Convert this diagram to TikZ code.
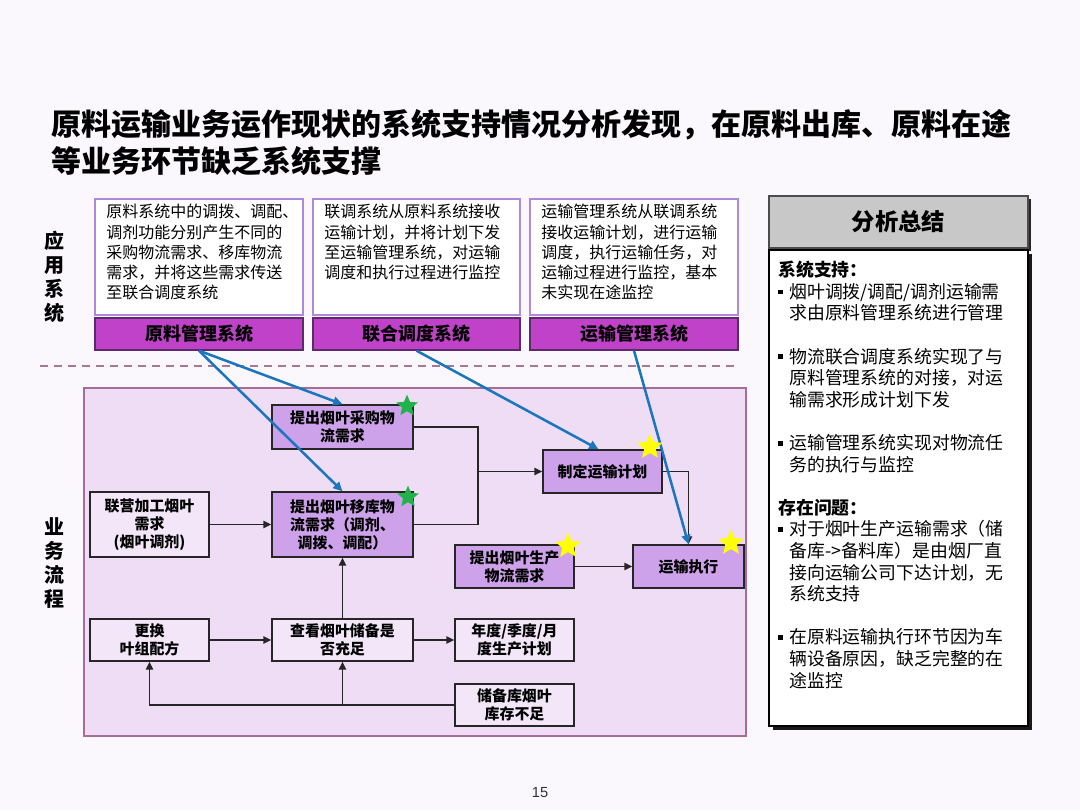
\documentclass[tikz,border=0pt]{standalone}
\usepackage{fontspec}
\setmainfont{Noto Sans CJK SC}
\newfontfamily\numfont{Liberation Sans}
\usetikzlibrary{shapes.geometric,arrows.meta}
\definecolor{bgc}{HTML}{FAF7FD}
\definecolor{areac}{HTML}{EFDDF6}
\definecolor{areab}{HTML}{A86C98}
\definecolor{dboxc}{HTML}{AE8ADE}
\definecolor{sysc}{HTML}{C042C8}
\definecolor{sysb}{HTML}{5A2A6A}
\definecolor{pc}{HTML}{CDA2EA}
\definecolor{lc}{HTML}{F3E6F9}
\definecolor{bluec}{HTML}{1B76BE}
\definecolor{greenc}{HTML}{22B24C}
\definecolor{yellowc}{HTML}{FFFF00}
\definecolor{dashc}{HTML}{A87898}
\definecolor{hdrc}{HTML}{C8C8C8}
\tikzset{
  dbox/.style={draw=dboxc, fill=white, line width=0.9pt, minimum width=156pt, minimum height=87pt, inner sep=0},
  dtext/.style={anchor=north west, inner sep=0, align=left, font=\fontsize{12pt}{15.2pt}\selectfont},
  sbox/.style={draw=sysb, fill=sysc, line width=1pt, minimum width=156pt, minimum height=24pt, inner sep=0, font=\bfseries\fontsize{13.5pt}{16pt}\selectfont},
  pbox/.style={draw=black!85, fill=pc, line width=1.1pt, inner sep=0, align=center, font=\bfseries\fontsize{11.2pt}{13.5pt}\selectfont},
  lbox/.style={pbox, fill=lc},
  conn/.style={line width=1.1pt, draw=black!85},
  arr/.style={conn, -{Triangle[length=6pt,width=5.5pt]}},
  barr/.style={line width=1.9pt, draw=bluec, -{Triangle[length=7pt,width=6.5pt]}},
  gstar/.style={star, star points=5, star point ratio=2.2, fill=greenc, inner sep=0, minimum size=17pt},
  ystar/.style={star, star points=5, star point ratio=2.2, fill=yellowc, inner sep=0, minimum size=20pt},
  sidelab/.style={align=center, inner sep=0, font=\bfseries\fontsize{15pt}{18pt}\selectfont},
}
\newcommand{\bul}{\makebox[8.25pt][l]{\rule[0.22em]{3.6pt}{3.6pt}}}
\newcommand{\ind}{\hspace*{8.25pt}}
\begin{document}
\begin{tikzpicture}[x=0.75pt,y=-0.75pt]
\fill[bgc] (0,0) rectangle (1080,810);
\useasboundingbox (0,0) rectangle (1080,810);

% title
\node[anchor=west, inner sep=0, font=\bfseries\fontsize{22.5pt}{27pt}\selectfont] (t1) at (51,125) {原料运输业务运作现状的系统支持情况分析发现，在原料出库、原料在途};
\node[anchor=west, inner sep=0, font=\bfseries\fontsize{22.5pt}{27pt}\selectfont] (t2) at (51,161) {等业务环节缺乏系统支撑};

% side labels
\node[sidelab] (la) at (54,277) {应\\用\\系\\统};
\node[sidelab] (lb) at (54,563) {业\\务\\流\\程};

% description boxes
\node[dbox] (d1) at (199,257) {};
\node[dbox, minimum width=155.25pt] (d2) at (416.5,257) {};
\node[dbox] (d3) at (634,257) {};
\node[dtext] (d1t) at (106,204) {原料系统中的调拨、调配、\\调剂功能分别产生不同的\\采购物流需求、移库物流\\需求，并将这些需求传送\\至联合调度系统};
\node[dtext] (d2t) at (324,204) {联调系统从原料系统接收\\运输计划，并将计划下发\\至运输管理系统，对运输\\调度和执行过程进行监控};
\node[dtext] (d3t) at (541,204) {运输管理系统从联调系统\\接收运输计划，进行运输\\调度，执行运输任务，对\\运输过程进行监控，基本\\未实现在途监控};

% system boxes
\node[sbox] (s1) at (199,334) {原料管理系统};
\node[sbox, minimum width=155.25pt] (s2) at (416.5,334) {联合调度系统};
\node[sbox] (s3) at (634,334) {运输管理系统};

% dashed separator
\coordinate (ds1) at (40,366);
\coordinate (ds2) at (740,366);
\draw[dashc, line width=0.9pt, dash pattern=on 6pt off 4.5pt] (ds1) -- (ds2);

% process area
\draw[fill=areac, draw=areab, line width=1pt] (84,388) rectangle (746,736);

% process boxes
\node[pbox, minimum width=105.75pt, minimum height=33pt] (cg) at (342.5,427) {提出烟叶采购物\\流需求};
\node[pbox, minimum width=105.75pt, minimum height=48.75pt] (yk) at (342.5,524.5) {提出烟叶移库物\\流需求（调剂、\\调拨、调配）};
\node[lbox, minimum width=89.25pt, minimum height=48.75pt] (lj) at (149.5,524.5) {联营加工烟叶\\需求\\(烟叶调剂)};
\node[pbox, minimum width=89.25pt, minimum height=32.25pt] (zd) at (602.5,471.5) {制定运输计划};
\node[pbox, minimum width=89.25pt, minimum height=32.25pt] (sc) at (514.5,566.5) {提出烟叶生产\\物流需求};
\node[pbox, minimum width=83.25pt, minimum height=32.25pt] (zx) at (688.5,566.5) {运输执行};
\node[lbox, minimum width=89.25pt, minimum height=31.5pt] (gh) at (149.5,640) {更换\\叶组配方};
\node[lbox, minimum width=105.75pt, minimum height=31.5pt] (ck) at (342.5,640) {查看烟叶储备是\\否充足};
\node[lbox, minimum width=89.25pt, minimum height=31.5pt] (nd) at (514.5,640) {年度/季度/月\\度生产计划};
\node[lbox, minimum width=89.25pt, minimum height=31.5pt] (cb) at (514.5,705) {储备库烟叶\\库存不足};

% black connectors
\coordinate (j1) at (478,471.5);
\draw[conn] (cg.east) -| (j1);
\draw[conn] (yk.east) -| (j1);
\draw[arr] (j1) -- (zd.west);
\draw[arr] (zd.east) -| (zx.north);
\draw[arr] (sc) -- (zx);
\draw[arr] (lj) -- (yk);
\draw[arr] (ck) -- (yk);
\draw[arr] (gh) -- (ck);
\draw[arr] (ck) -- (nd);
\draw[arr] (cb.west) -| (gh.south);
\coordinate (j2) at (342.5,705);
\draw[arr] (j2) -- (ck.south);

% blue connectors
\draw[barr] (s1.south) -- (cg.north);
\draw[barr] (s1.south) -- (yk.north);
\draw[barr] (s2.south) -- ([xshift=-3pt]zd.north);
\draw[barr] (s3.south) -- (zx.north);

% stars
\node[gstar] (g1) at (407,406) {};
\node[gstar] (g2) at (408,497) {};
\node[ystar] (y1) at (650,447) {};
\node[ystar] (y2) at (568,546) {};
\node[ystar] (y3) at (731,543) {};

% right panel
\fill[black!85] (772,199) rectangle (1031,251);
\node[draw=black!70, fill=hdrc, line width=0.8pt, minimum width=194.25pt, minimum height=39pt, inner sep=0, font=\bfseries\fontsize{17.5pt}{20pt}\selectfont] (hd) at (898.5,222) {分析总结};
\fill[black!90] (773,254) rectangle (1032,730);
\node[draw=black, fill=white, line width=0.8pt, minimum width=194.25pt, minimum height=357pt, inner sep=0] (bd) at (898.5,488) {};
\node[anchor=north west, inner sep=0, align=left, font=\fontsize{13.4pt}{16.2pt}\selectfont] (bt) at (778,261) {%
{\bfseries 系统支持：}\\
\bul 烟叶调拨/调配/调剂运输需\\
\ind 求由原料管理系统进行管理\\
\mbox{}\\
\bul 物流联合调度系统实现了与\\
\ind 原料管理系统的对接，对运\\
\ind 输需求形成计划下发\\
\mbox{}\\
\bul 运输管理系统实现对物流任\\
\ind 务的执行与监控\\
\mbox{}\\
{\bfseries 存在问题：}\\
\bul 对于烟叶生产运输需求（储\\
\ind 备库->备料库）是由烟厂直\\
\ind 接向运输公司下达计划，无\\
\ind 系统支持\\
\mbox{}\\
\bul 在原料运输执行环节因为车\\
\ind 辆设备原因，缺乏完整的在\\
\ind 途监控};

% page number
\node[inner sep=0, text=black!80, font=\numfont\fontsize{11pt}{13pt}\selectfont] (pn) at (540,793) {15};
\end{tikzpicture}
\end{document}
